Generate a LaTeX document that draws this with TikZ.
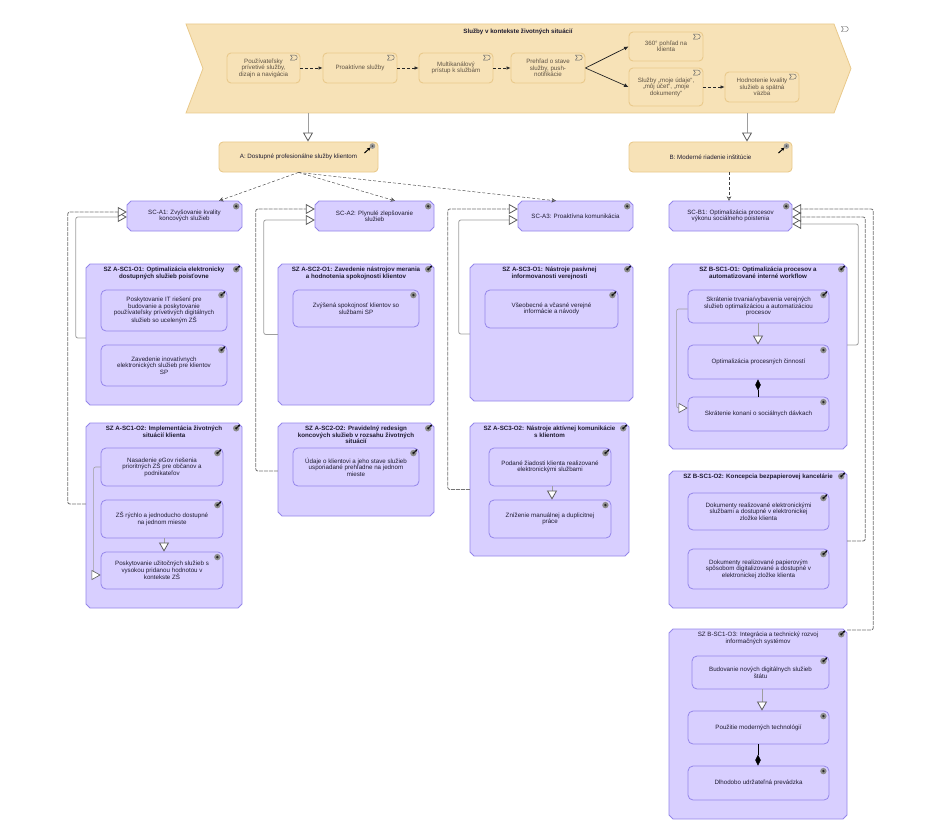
\documentclass[tikz,border=0pt]{standalone}
\usepackage{fontspec}
\setmainfont{Liberation Sans}
\usepackage{tikz}
\usetikzlibrary{arrows.meta}
\definecolor{bandfill}{HTML}{F7E2B7}
\definecolor{bandline}{HTML}{E9C98B}
\definecolor{goalfill}{HTML}{D8CFFF}
\definecolor{goalline}{HTML}{9486EA}
\definecolor{linkgrey}{HTML}{9E9E9E}
\definecolor{bandtext}{HTML}{5E5344}
\definecolor{goaltext}{HTML}{1E1B30}
\newcommand{\smallfont}{\fontsize{6.2}{6.5}\selectfont}
\tikzset{
    band/.style={fill=bandfill, draw=bandline, line width=0.8pt},
    servicebox/.style={fill=bandfill, draw=bandline, line width=0.9pt, rounded corners=4pt, align=center, text=bandtext, font=\smallfont, inner sep=0pt},
    driverbox/.style={fill=bandfill, draw=bandline, line width=0.9pt, rounded corners=4pt, align=center, text=goaltext, font=\smallfont, inner sep=0pt},
    goalshape/.style={fill=goalfill, draw=goalline, line width=0.8pt},
    goallabel/.style={align=center, text=goaltext, font=\smallfont, inner sep=0pt},
    innerbox/.style={fill=goalfill, draw=goalline, line width=0.8pt, rounded corners=5pt, align=center, text=goaltext, font=\smallfont, inner sep=0pt},
    titletext/.style={anchor=north, yshift=-3pt, align=center, text=goaltext, font=\smallfont\bfseries, inner sep=0pt},
    flowlink/.style={draw=black!85, densely dashed, line width=0.6pt, -{Latex[length=4pt,width=3.5pt]}},
    trigger/.style={draw=black!85, line width=0.7pt, -{Latex[length=4.5pt,width=4pt]}},
    realize/.style={draw=black!75, densely dashed, line width=0.45pt, -{Stealth[length=4.5pt,width=4.5pt,open]}},
    speclink/.style={draw=linkgrey, line width=0.8pt, rounded corners=2pt, -{Triangle[fill=white,color=black!65,length=9pt,width=10pt]}},
    specdash/.style={speclink, draw=black!55, dash pattern=on 4pt off 1pt},
    partlink/.style={draw=black, line width=0.6pt, {Diamond[fill=black,length=11pt,width=5.5pt]}-},
    partend/.style={draw=black, line width=0.6pt, -{Diamond[fill=black,length=11pt,width=5.5pt]}},
}
\newcommand{\archbox}[7]{
    \node[#1, minimum width=#5-#3, minimum height=#6-#4] (#2) at ({(#3+#5)/2},{(#4+#6)/2}) {#7};
}
% chamfered frame, then the named node on top of it
\newcommand{\goalbox}[6]{
    \draw[goalshape] ({#2+4},#3) -- ({#4-4},#3) -- (#4,{#3+4}) -- (#4,{#5-4}) -- ({#4-4},#5) -- ({#2+4},#5) -- (#2,{#5-4}) -- (#2,{#3+4}) -- cycle;
    \node[goallabel, minimum width=#4-#2, minimum height=#5-#3] (#1) at ({(#2+#4)/2},{(#3+#5)/2}) {#6};
}
\newcommand{\goalmark}[1]{
    \fill[black!45] ([xshift=-6pt,yshift=-5.5pt]#1.north east) circle (3.2);
    \fill[black!85] ([xshift=-6pt,yshift=-5.5pt]#1.north east) circle (1.3);
}
\newcommand{\outcomemark}[1]{
    \goalmark{#1}
    \draw[black, line width=0.7pt, -{Stealth[length=2.5pt,width=2.5pt]}] ([xshift=-6pt,yshift=-5.5pt]#1.north east) -- ++(3.8,-3.8);
}
\newcommand{\drivermark}[1]{
    \fill[black!40] ([xshift=-6pt,yshift=-4.5pt]#1.north east) circle (2.8);
    \fill[black!70] ([xshift=-6pt,yshift=-4.5pt]#1.north east) circle (1);
    \draw[black, line width=1pt, -{Stealth[length=3.5pt,width=3.5pt]}] ([xshift=-14pt,yshift=-11.5pt]#1.north east) -- ([xshift=-8pt,yshift=-6pt]#1.north east);
}
\newcommand{\servicemark}[1]{
    \draw[black!60, line width=0.45pt, shift={(#1)}] (-3.5,-2.5) -- (0.8,-2.5) arc (-90:90:2.5) -- (-3.5,2.5) -- (-1.7,0) -- cycle;
}
\begin{document}
\begin{tikzpicture}[x=1pt,y=-1pt]
    \useasboundingbox (0,0) rectangle (945,824);
    % value stream band
    \draw[band] (186,24) -- (834,24) -- (851,68.5) -- (834,113) -- (186,113) -- (203,68.5) -- cycle;
    \coordinate (bandA) at (308,113);
    \coordinate (bandB) at (747,113);
    \coordinate (bandicon) at (845,29);
    \servicemark{bandicon}
    \node[titletext, anchor=center, yshift=0pt] (bandtitle) at (518,29) {Služby v kontekste životných situácií};

    \archbox{servicebox}{sv1}{227}{53}{300}{83}{Používateľsky\\prívetivé služby,\\dizajn a navigácia}
    \archbox{servicebox}{sv2}{323}{53}{397}{83}{Proaktívne služby}
    \archbox{servicebox}{sv3}{419}{53}{493}{83}{Multikanálový\\prístup k službám}
    \archbox{servicebox}{sv4}{511}{53}{585}{83}{Prehľad o stave\\služby, push-\\notifikácie}
    \archbox{servicebox}{sv5}{629}{32}{703}{61}{360° pohľad na\\klienta}
    \archbox{servicebox}{sv6}{629}{68}{703}{106}{Služby „moje údaje“,\\„môj účet“, „moje\\dokumenty“}
    \archbox{servicebox}{sv7}{725}{72}{799}{102}{Hodnotenie kvality\\služieb a spätná\\väzba}
    \foreach \s in {sv1,sv2,sv3,sv4,sv5,sv6,sv7} {
        \coordinate (icon) at ([xshift=-6.5pt,yshift=-5pt]\s.north east);
        \servicemark{icon}
    }
    \draw[flowlink] (sv1) -- (sv2);
    \draw[flowlink] (sv2) -- (sv3);
    \draw[flowlink] (sv3) -- (sv4);
    \draw[trigger] (sv4.east) -- (sv5.west);
    \draw[trigger] (sv4.east) -- (sv6.west);
    \draw[flowlink] (sv6) -- (sv7);

    % drivers
    \archbox{driverbox}{drvA}{219}{142}{378}{172}{A: Dostupné profesionálne služby klientom}
    \archbox{driverbox}{drvB}{629}{142}{792}{172}{B: Moderné riadenie inštitúcie}
    \drivermark{drvA}
    \drivermark{drvB}
    \draw[speclink] (bandA) -- ([xshift=9.5pt]drvA.north);
    \draw[speclink] (bandB) -- ([xshift=36.5pt]drvB.north);

    % strategic goals
    \goalbox{scaA}{127}{201}{242}{231}{SC-A1: Zvyšovanie kvality\\koncových služieb}
    \goalbox{scaB}{315}{201}{434}{231}{SC-A2: Plynulé zlepšovanie\\služieb}
    \goalbox{scaC}{518}{201}{633}{231}{SC-A3: Proaktívna komunikácia}
    \goalbox{scbA}{669}{201}{792}{231}{SC-B1: Optimalizácia procesov\\výkonu sociálneho poistenia}
    \foreach \g in {scaA,scaB,scaC,scbA} {\goalmark{\g}}
    \draw[realize] (drvA.south) -- ([xshift=34.5pt]scaA.north);
    \draw[realize] (drvA.south) -- ([xshift=20.5pt]scaB.north);
    \draw[realize] (drvA.south) -- ([xshift=-19.5pt]scaC.north);
    \draw[realize] ([xshift=18.5pt]drvB.south) -- ([xshift=-1.5pt]scbA.north);

    % objective containers
    \goalbox{oaAa}{86}{264}{242}{405}{}
    \goalbox{oaAb}{86}{423}{242}{608}{}
    \goalbox{oaBa}{278}{264}{434}{405}{}
    \goalbox{oaBb}{278}{423}{434}{516}{}
    \goalbox{oaCa}{470}{264}{633}{401}{}
    \goalbox{oaCb}{470}{423}{629}{556}{}
    \goalbox{obAa}{669}{264}{847}{449}{}
    \goalbox{obAb}{669}{471}{847}{608}{}
    \goalbox{obAc}{669}{629}{847}{819}{}
    \foreach \o in {oaAa,oaAb,oaBa,oaBb,oaCa,oaCb,obAa,obAb,obAc} {\outcomemark{\o}}
    \node[titletext] (oaAat) at (oaAa.north) {SZ A-SC1-O1: Optimalizácia elektronicky\\dostupných služieb poisťovne};
    \node[titletext] (oaAbt) at (oaAb.north) {SZ A-SC1-O2: Implementácia životných\\situácií klienta};
    \node[titletext] (oaBat) at (oaBa.north) {SZ A-SC2-O1: Zavedenie nástrojov merania\\a hodnotenia spokojnosti klientov};
    \node[titletext] (oaBbt) at (oaBb.north) {SZ A-SC2-O2: Pravidelný redesign\\koncových služieb v rozsahu životných\\situácií};
    \node[titletext, xshift=-2pt] (oaCat) at (oaCa.north) {SZ A-SC3-O1: Nástroje pasívnej\\informovanosti verejnosti};
    \node[titletext] (oaCbt) at (oaCb.north) {SZ A-SC3-O2: Nástroje aktívnej komunikácie\\s klientom};
    \node[titletext] (obAat) at (obAa.north) {SZ B-SC1-O1: Optimalizácia procesov a\\automatizované interné workflow};
    \node[titletext] (obAbt) at (obAb.north) {SZ B-SC1-O2: Koncepcia bezpapierovej kancelárie};
    \node[titletext, font=\smallfont] (obAct) at (obAc.north) {SZ B-SC1-O3: Integrácia a technický rozvoj\\informačných systémov};

    % inner outcomes
    \archbox{innerbox}{ia1}{101}{290}{227}{331}{Poskytovanie IT riešení pre\\budovanie a poskytovanie\\používateľsky prívetivých digitálnych\\služieb so uceleným ZŠ}
    \archbox{innerbox}{ia2}{101}{345}{227}{386}{Zavedenie inovatívnych\\elektronických služieb pre klientov\\SP}
    \archbox{innerbox}{ia3}{101}{448}{223}{486}{Nasadenie eGov riešenia\\prioritných ZŠ pre občanov a\\podnikateľov}
    \archbox{innerbox}{ia4}{101}{500}{223}{538}{ZŠ rýchlo a jednoducho dostupné\\na jednom mieste}
    \archbox{innerbox}{ia5}{101}{552}{223}{589}{Poskytovanie užitočných služieb s\\vysokou pridanou hodnotou v\\kontekste ZŠ}
    \archbox{innerbox}{ib1}{293}{290}{419}{327}{Zvýšená spokojnosť klientov so\\službami SP}
    \archbox{innerbox}{ib2}{293}{448}{419}{486}{Údaje o klientovi a jeho stave služieb\\usporiadané prehľadne na jednom\\mieste}
    \archbox{innerbox}{ic1}{485}{290}{618}{328}{Všeobecné a včasné verejné\\informácie a návody}
    \archbox{innerbox}{ic2}{489}{448}{611}{486}{Podané žiadosti klienta realizované\\elektronickými službami}
    \archbox{innerbox}{ic3}{489}{500}{611}{538}{Zníženie manuálnej a duplicitnej\\práce}
    \archbox{innerbox}{id1}{688}{290}{829}{323}{Skrátenie trvania/vybavenia verejných\\služieb optimalizáciou a automatizáciou\\procesov}
    \archbox{innerbox}{id2}{688}{345}{829}{379}{Optimalizácia procesných činností}
    \archbox{innerbox}{id3}{688}{397}{829}{431}{Skrátenie konaní o sociálnych dávkach}
    \archbox{innerbox}{ie1}{688}{493}{829}{530}{Dokumenty realizované elektronickými\\službami a dostupné v elektronickej\\zložke klienta}
    \archbox{innerbox}{ie2}{688}{549}{829}{589}{Dokumenty realizované papierovým\\spôsobom digitalizované a dostupné v\\elektronickej zložke klienta}
    \archbox{innerbox}{if1}{692}{656}{829}{689}{Budovanie nových digitálnych služieb\\štátu}
    \archbox{innerbox}{if2}{688}{711}{829}{744}{Použitie moderných technológií}
    \archbox{innerbox}{if3}{688}{766}{829}{800}{Dlhodobo udržateľná prevádzka}
    \foreach \m in {ia1,ia2,ia3,ia4,ib2,ic1,ic2,id1,ie1,ie2,if1} {\outcomemark{\m}}
    \foreach \m in {ia5,ib1,ic3,id2,id3,if2,if3} {\goalmark{\m}}

    % links inside containers
    \draw[speclink] ([xshift=2pt]ia4.south) -- ([xshift=2pt]ia5.north);
    \draw[speclink, line width=0.6pt] (ia3.west) -- ++(-7,0) |- ([yshift=-4.5pt]ia5.west);
    \draw[speclink] ([xshift=2pt]ic2.south) -- ([xshift=2pt]ic3.north);
    \draw[speclink] ([xshift=-0.5pt]id1.south) -- ([xshift=-0.5pt]id2.north);
    \draw[partlink] ([xshift=-0.5pt]id2.south) -- ([xshift=-0.5pt]id3.north);
    \draw[speclink, line width=0.6pt] ([yshift=-2.5pt]id1.west) -- ++(-11,0) |- ([yshift=6pt]id3.west);
    \draw[speclink] ([xshift=1.5pt]if1.south) -- ([xshift=3.5pt]if2.north);
    \draw[partend] ([xshift=-0.5pt]if2.south) -- ([xshift=-0.5pt]if3.north);

    % links up to the goals
    \draw[speclink] ([yshift=-3.5pt]oaAa.west) -- ++(-10,0) |- ([yshift=-1pt]scaA.west);
    \draw[specdash] ([yshift=11.5pt]oaAb.west) -- ++(-18,0) |- ([yshift=4pt]scaA.west);
    \draw[speclink] (oaBa.west) -- ++(-14,0) |- ([yshift=-4pt]scaB.west);
    \draw[specdash] ([yshift=-1.5pt]oaBb.west) -- ++(-22,0) |- ([yshift=7pt]scaB.west);
    \draw[speclink] ([yshift=-1.5pt]oaCa.west) -- ++(-11,0) |- ([yshift=-4pt]scaC.west);
    \draw[specdash] (oaCb.west) -- ++(-22,0) |- ([yshift=7pt]scaC.west);
    \draw[speclink] ([yshift=11.5pt]obAa.east) -- ++(11,0) |- ([yshift=-8pt]scbA.east);
    \draw[specdash] ([yshift=-1.5pt]obAb.east) -- ++(18,0) |- ([yshift=-1pt]scbA.east);
    \draw[specdash] ([yshift=94pt]obAc.east) -- ++(26,0) |- ([yshift=7pt]scbA.east);
\end{tikzpicture}
\end{document}
